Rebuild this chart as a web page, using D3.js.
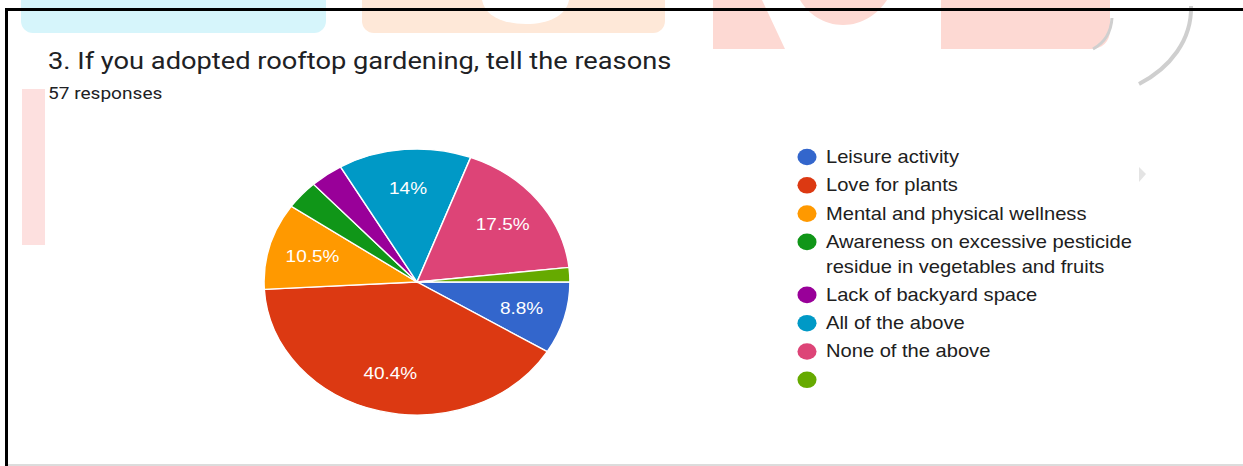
<!DOCTYPE html>
<html>
<head>
<meta charset="utf-8">
<script src="https://cdn.jsdelivr.net/npm/d3@7"></script>
<style>
  html, body { margin: 0; padding: 0; background: #fff; overflow: hidden; }
  svg { display: block; }
</style>
</head>
<body>
<svg id="chart" width="1243" height="466"></svg>
<script>
// Survey question and answer tallies
const titleText = "3. If you adopted rooftop gardening, tell the reasons";
const subtitleText = "57 responses";
const categories = [
  "Leisure activity",
  "Love for plants",
  "Mental and physical wellness",
  "Awareness on excessive pesticide residue in vegetables and fruits",
  "Lack of backyard space",
  "All of the above",
  "None of the above",
  ""
];
const responses = [5, 23, 6, 2, 2, 8, 10, 1];
const palette = ["#3366cc", "#dc3912", "#ff9900", "#109618", "#990099", "#0099c6", "#dd4477", "#66aa00"];

const W = 1243, H = 466;
const svg = d3.select("#chart");

// ---- faint page decorations behind the card ----
const deco = svg.append("g").attr("class", "decor");
deco.append("rect").attr("x", 21).attr("y", -20).attr("width", 305).attr("height", 53).attr("rx", 12).attr("fill", "#d6f5fb");
deco.append("rect").attr("x", 362).attr("y", -20).attr("width", 303).attr("height", 53).attr("rx", 12).attr("fill", "#fee8d8");
deco.append("path").attr("d", "M482,0 L569,0 C566,16 548,24 526,24 C503,24 485,16 482,0 Z").attr("fill", "#fff");
deco.append("path").attr("d", "M713,0 L762,0 L785,49 L713,49 Z").attr("fill", "#fdd9d3");
deco.append("path").attr("d", "M800,0 L887,0 C878,14 862,25 843,25 C824,25 808,14 800,0 Z").attr("fill", "#fdd9d3");
deco.append("path").attr("d", "M941,0 L1110,0 L1110,30 C1110,42 1102,49 1090,49 L941,49 Z").attr("fill", "#fdd9d3");
deco.append("path").attr("d", "M1112,18 C1111,34 1104,43 1093,49").attr("fill", "none").attr("stroke", "#cfcfcf").attr("stroke-width", 3);
deco.append("path").attr("d", "M1191,6 C1192,40 1170,68 1139,84").attr("fill", "none").attr("stroke", "#cfcfcf").attr("stroke-width", 4);
deco.append("rect").attr("x", 22).attr("y", 89).attr("width", 23).attr("height", 156).attr("fill", "#fde0df");
deco.append("path").attr("d", "M1139,167 L1146,174 L1139,182 Z").attr("fill", "#e4e4e4");

// ---- card frame ----
svg.append("rect").attr("x", 5).attr("y", 8).attr("width", W - 5).attr("height", 3).attr("fill", "#000");
svg.append("rect").attr("x", 5).attr("y", 8).attr("width", 3).attr("height", H - 8).attr("fill", "#000");
svg.append("rect").attr("x", 8).attr("y", H - 2).attr("width", W - 8).attr("height", 2).attr("fill", "#dcdcdc");

// The card content is laid out slightly wider than tall
const sx = 1.15;
const card = svg.append("g").attr("transform", `scale(${sx},1)`);

// ---- heading ----
card.append("text")
  .attr("x", 48 / sx).attr("y", 69)
  .attr("font-family", "Roboto, 'Noto Sans', sans-serif")
  .attr("font-size", 23.7)
  .attr("fill", "#202124")
  .text(titleText);
card.append("text")
  .attr("x", 48 / sx).attr("y", 99)
  .attr("font-family", "Roboto, 'Noto Sans', sans-serif")
  .attr("font-size", 16.6)
  .attr("fill", "#202124")
  .text(subtitleText);

// ---- pie ----
const total = d3.sum(responses);
const data = categories.map((c, i) => ({ category: c, value: responses[i], color: palette[i] }));
const radius = 133;
const cx = 417 / sx, cy = 282;

const pie = d3.pie()
  .value(d => d.value)
  .sort(null)
  .startAngle(Math.PI / 2)
  .endAngle(Math.PI / 2 + 2 * Math.PI);
const arcs = pie(data);

const arc = d3.arc().innerRadius(0).outerRadius(radius);
const labelArc = d3.arc().innerRadius(radius * 0.71).outerRadius(radius * 0.71);

const pieG = card.append("g").attr("transform", `translate(${cx},${cy})`);
pieG.selectAll("path.slice")
  .data(arcs)
  .join("path")
  .attr("class", "slice")
  .attr("d", arc)
  .attr("fill", d => d.data.color)
  .attr("stroke", "#fff")
  .attr("stroke-width", 1.3);

const pct = v => {
  const p = Math.round(v / total * 1000) / 10;
  return (p % 1 === 0 ? p.toFixed(0) : p.toFixed(1)) + "%";
};

pieG.selectAll("text.pct")
  .data(arcs.filter(d => d.data.value / total >= 0.05))
  .join("text")
  .attr("class", "pct")
  .attr("transform", d => `translate(${labelArc.centroid(d)})`)
  .attr("text-anchor", "middle")
  .attr("dy", "0.36em")
  .attr("font-family", "'Liberation Sans', Arial, sans-serif")
  .attr("font-size", 16.5)
  .attr("fill", "#fff")
  .text(d => pct(d.data.value));

// ---- legend ----
const legendX = 807 / sx, textX = 826 / sx;
const rowStep = 28.3, lineStep = 24.7, wrapWidth = 292;
const legend = card.append("g");
let y = 157;
data.forEach(d => {
  legend.append("circle")
    .attr("cx", legendX).attr("cy", y).attr("r", 8.3)
    .attr("fill", d.color);
  const t = legend.append("text")
    .attr("x", textX).attr("y", y + 6)
    .attr("font-family", "'Liberation Sans', Arial, sans-serif")
    .attr("font-size", 17.5)
    .attr("fill", "#202020");
  // wrap long labels onto extra lines
  const words = d.category.split(/\s+/).filter(Boolean);
  let line = [], lineNo = 0;
  let tspan = t.append("tspan").attr("x", textX).attr("dy", 0);
  words.forEach(w => {
    line.push(w);
    tspan.text(line.join(" "));
    if (tspan.node().getComputedTextLength() > wrapWidth && line.length > 1) {
      line.pop();
      tspan.text(line.join(" "));
      line = [w];
      lineNo++;
      tspan = t.append("tspan").attr("x", textX).attr("dy", lineStep).text(w);
    }
  });
  y += rowStep + lineNo * lineStep;
});
</script>
</body>
</html>
